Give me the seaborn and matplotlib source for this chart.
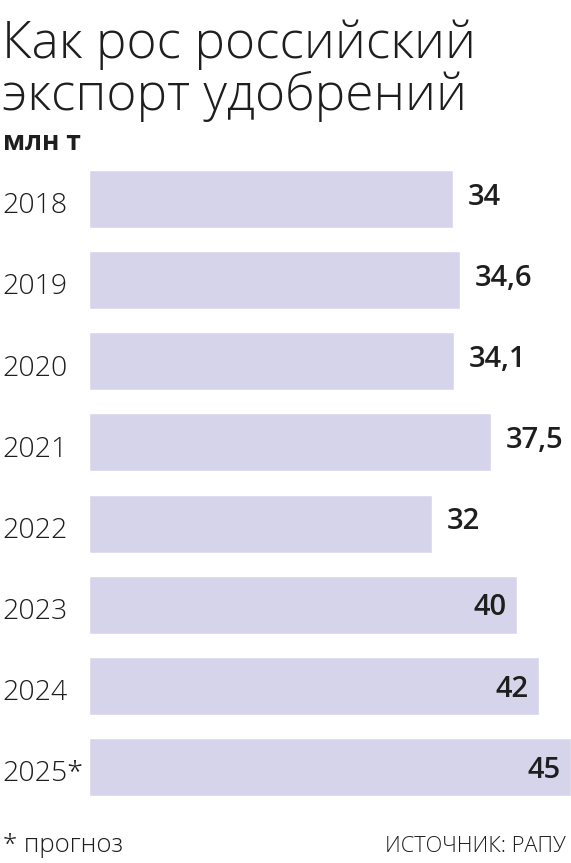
import matplotlib
matplotlib.use('Agg')
import matplotlib.pyplot as plt
import matplotlib.transforms as mtransforms
import seaborn as sns
import pandas as pd

# Data
years = ['2018', '2019', '2020', '2021', '2022', '2023', '2024', '2025*']
values = [34, 34.6, 34.1, 37.5, 32, 40, 42, 45]
value_labels = ['34', '34,6', '34,1', '37,5', '32', '40', '42', '45']

title = 'Как рос российский\nэкспорт удобрений'
unit = 'млн т'
note = '* прогноз'
source = 'ИСТОЧНИК: РАПУ'

sns.set_theme(style='white')
plt.rcParams['font.family'] = ['Open Sans', 'DejaVu Sans']

W, H = 571, 863
fig = plt.figure(figsize=(W / 100, H / 100), dpi=100)
ax = fig.add_axes([89 / W, 1 - 807.5 / H, 1 - 89 / W, (807.5 - 158.5) / H])

df = pd.DataFrame({'year': years, 'value': values})
sns.barplot(data=df, x='value', y='year', orient='h', color='#d6d4ea',
            saturation=1, width=0.716, ax=ax)

ax.set_xlim(0, 45)
ax.set_ylim(len(years) - 0.5, -0.5)
ax.set_xlabel('')
ax.set_ylabel('')
ax.set_xticks([])
ax.set_yticks([])
sns.despine(ax=ax, left=True, bottom=True)

fam = ['Open Sans', 'DejaVu Sans']
ink = '#1e1e1e'
light = dict(family=fam, fontweight='light', color=ink)
bold = dict(family=fam, fontweight='semibold', color=ink)

# year labels sit at the left edge of the figure, a bit below bar centre
trans = mtransforms.blended_transform_factory(fig.transFigure, ax.transData)
for i, (y, v, lab) in enumerate(zip(years, values, value_labels)):
    ax.text(2 / W, i + 0.09, y, transform=trans, ha='left', va='center',
            fontsize=20.5, **light)
    if v >= 40:
        # long bars: value goes inside the bar end
        ax.text(v - 1.0, i + 0.04, lab, ha='right', va='center',
                fontsize=21, **bold)
    else:
        ax.text(v + 1.4, i - 0.02, lab, ha='left', va='center',
                fontsize=21, **bold)

fig.text(2 / W, 1 - 110 / H, title, ha='left', va='baseline',
         fontsize=37, linespacing=1.0, **light)
fig.text(3 / W, 1 - 150 / H, unit, ha='left', va='baseline',
         fontsize=19, family=fam, fontweight='bold', color=ink)
fig.text(3 / W, 1 - 852 / H, note, ha='left', va='baseline',
         fontsize=18.5, **light)
fig.text(566 / W, 1 - 852 / H, source, ha='right', va='baseline',
         fontsize=15.7, **light)

fig.savefig('out.png', dpi=100, facecolor='white')
